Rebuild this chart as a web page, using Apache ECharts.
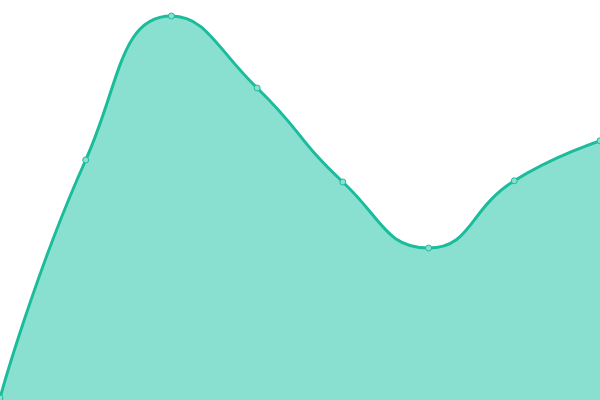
<!DOCTYPE html>
<html>
<head>
<meta charset="utf-8">
<script src="https://cdn.jsdelivr.net/npm/echarts@6/dist/echarts.min.js"></script>
<style>
  html, body { margin: 0; padding: 0; background: #fff; }
  #main { width: 600px; height: 400px; }
</style>
</head>
<body>
<div id="main"></div>
<script>
// data
var categories = ['1', '2', '3', '4', '5', '6', '7', '8']
var values = [0.5, 60, 96, 78, 54.5, 38, 54.8, 64.8]

var myChart = echarts.init(document.getElementById('main'))
myChart.setOption({
    animation: false,
    grid: { left: 0, right: 0, top: 0, bottom: 0 },
    xAxis: {
        type: 'category',
        boundaryGap: false,
        show: false,
        data: categories
    },
    yAxis: {
        type: 'value',
        show: false,
        min: 0,
        max: 100
    },
    series: [{
        type: 'line',
        smooth: true,
        data: values,
        symbol: 'circle',
        symbolSize: 6,
        itemStyle: { color: '#8ae0d0', borderColor: '#1abc9c', borderWidth: 1 },
        lineStyle: { color: '#1abc9c', width: 3 },
        areaStyle: { color: '#8ae0d0', opacity: 1 }
    }]
})
</script>
</body>
</html>
